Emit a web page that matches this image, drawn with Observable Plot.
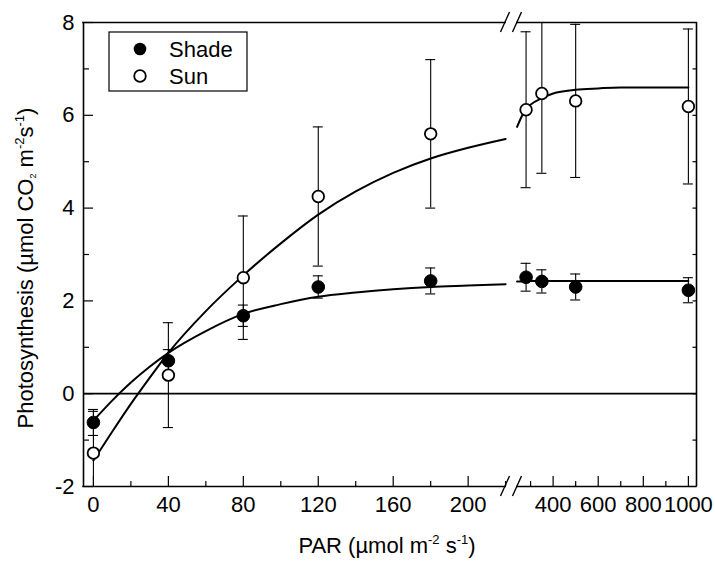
<!DOCTYPE html>
<html><head><meta charset="utf-8">
<script src="https://cdn.jsdelivr.net/npm/d3@7"></script>
<script src="https://cdn.jsdelivr.net/npm/@observablehq/plot@0.6"></script>
<style>
body{margin:0;background:#fff;}
#chart{position:relative;width:715px;height:566px;}
</style>
</head><body><div id="chart"></div>
<script>
// ---- data ----
const par = [0, 40, 80, 120, 180, 280, 350, 500, 1000];
const shadeMean = [-0.62, 0.71, 1.68, 2.30, 2.43, 2.51, 2.42, 2.30, 2.23];
const shadeErr  = [0.28, 0.24, 0.23, 0.24, 0.28, 0.30, 0.25, 0.28, 0.27];
const sunMean   = [-1.28, 0.40, 2.50, 4.25, 5.60, 6.12, 6.47, 6.31, 6.19];
const sunErr    = [0.90, 1.13, 1.33, 1.50, 1.60, 1.68, 1.72, 1.65, 1.67];

// fitted light-response curves
const fitLowPar   = [0, 10, 20, 30, 40, 60, 80, 100, 120, 140, 160, 180, 200, 220];
const shadeFitLow = [-0.58, -0.15, 0.24, 0.58, 0.88, 1.35, 1.72, 1.93, 2.09, 2.18, 2.25, 2.30, 2.33, 2.36];
const sunFitLow   = [-1.44, -0.82, -0.22, 0.34, 0.88, 1.78, 2.55, 3.24, 3.86, 4.36, 4.76, 5.07, 5.30, 5.49];
const fitHighPar   = [240, 260, 280, 300, 350, 400, 500, 600, 700, 800, 1000];
const shadeFitHigh = [2.42, 2.42, 2.43, 2.43, 2.43, 2.43, 2.43, 2.43, 2.43, 2.43, 2.43];
const sunFitHigh   = [5.75, 5.97, 6.13, 6.23, 6.37, 6.47, 6.55, 6.58, 6.60, 6.60, 6.60];

// ---- axes (broken x axis) ----
const xDomain = [-5.3, 221, 222, 1036];
const xRange  = [83, 507, 512.5, 696];
const yDomain = [-2, 8];
const xMinorTicks = [20, 60, 100, 140, 180, 220, 300, 500, 700, 900];
const xMajorTicks = [0, 40, 80, 120, 160, 200, 400, 600, 800, 1000];
const yMajorTicks = [-2, 0, 2, 4, 6, 8];
const yMinorTicks = [-1, 1, 3, 5, 7];
const yAllTicks = [-1, 0, 1, 2, 3, 4, 5, 6, 7];

const seriesNames = ["Shade", "Sun"];

const shadeRows = par.map((p, i) => ({par: p, v: shadeMean[i], lo: shadeMean[i] - shadeErr[i], hi: shadeMean[i] + shadeErr[i]}));
const sunRows   = par.map((p, i) => ({par: p, v: sunMean[i], lo: sunMean[i] - sunErr[i], hi: sunMean[i] + sunErr[i]}));
const allRows = [...shadeRows, ...sunRows];
const fitRows = [
  ...fitLowPar.map((p, i) => ({par: p, v: shadeFitLow[i], z: "shade-low"})),
  ...fitLowPar.map((p, i) => ({par: p, v: sunFitLow[i], z: "sun-low"})),
  ...fitHighPar.map((p, i) => ({par: p, v: shadeFitHigh[i], z: "shade-high"})),
  ...fitHighPar.map((p, i) => ({par: p, v: sunFitHigh[i], z: "sun-high"}))
];

const FONT = "Arial, 'Liberation Sans', Helvetica, sans-serif";
const fmt = d => String(d);

const plot = Plot.plot({
  width: 715,
  height: 566,
  marginLeft: 83,
  marginRight: 19,
  marginTop: 22,
  marginBottom: 80,
  style: {fontFamily: FONT, fontSize: "22px", color: "black", background: "white"},
  x: {type: "linear", domain: xDomain, range: xRange},
  y: {domain: yDomain},
  marks: [
    // zero line
    Plot.ruleY([0], {stroke: "black", strokeWidth: 1.8}),
    // frame: left & right
    Plot.ruleX([xDomain[0]], {y1: yDomain[0], y2: yDomain[1], stroke: "black", strokeWidth: 1.6}),
    Plot.ruleX([xDomain[3]], {y1: yDomain[0], y2: yDomain[1], stroke: "black", strokeWidth: 1.6}),
    // frame: bottom & top, broken
    Plot.ruleY([yDomain[0], yDomain[1]], {x1: xDomain[0], x2: xDomain[1], insetRight: 2, stroke: "black", strokeWidth: 1.6, strokeLinecap: "square"}),
    Plot.ruleY([yDomain[0], yDomain[1]], {x1: xDomain[2], x2: xDomain[3], insetLeft: 4.5, stroke: "black", strokeWidth: 1.6, strokeLinecap: "square"}),
    // inward ticks: y left
    Plot.ruleY(yMajorTicks, {x1: xDomain[0], x2: xDomain[0], insetRight: -10, stroke: "black", strokeWidth: 1.2}),
    Plot.ruleY(yMinorTicks, {x1: xDomain[0], x2: xDomain[0], insetRight: -6, stroke: "black", strokeWidth: 1.2}),
    // right border ticks
    Plot.ruleY(yAllTicks, {x1: xDomain[3], x2: xDomain[3], insetLeft: -3.5, stroke: "black", strokeWidth: 1.2}),
    // inward ticks: x bottom
    Plot.ruleX(xMajorTicks, {y1: yDomain[0], y2: yDomain[0], insetTop: -10, stroke: "black", strokeWidth: 1.2}),
    Plot.ruleX(xMinorTicks, {y1: yDomain[0], y2: yDomain[0], insetTop: -5, stroke: "black", strokeWidth: 1.2}),
    // tick labels
    Plot.axisX(xMajorTicks, {tickSize: 0, tickPadding: 10, tickFormat: fmt, fontSize: 22, label: null}),
    Plot.axisY(yMajorTicks, {tickSize: 0, tickPadding: 9, tickFormat: fmt, fontSize: 22, label: null}),
    // error bars
    Plot.ruleX(allRows, {x: "par", y1: "lo", y2: "hi", stroke: "black", strokeWidth: 1.1, clip: true}),
    Plot.ruleY(allRows, {y: "hi", x1: "par", x2: "par", insetLeft: -5, insetRight: -5, stroke: "black", strokeWidth: 1.1, clip: true}),
    Plot.ruleY(allRows, {y: "lo", x1: "par", x2: "par", insetLeft: -5, insetRight: -5, stroke: "black", strokeWidth: 1.1, clip: true}),
    // fitted curves
    Plot.line(fitRows, {x: "par", y: "v", z: "z", curve: "monotone-x", stroke: "black", strokeWidth: 2}),
    // points
    Plot.dot(shadeRows, {x: "par", y: "v", r: 6.3, fill: "black", stroke: "black", strokeWidth: 1}),
    Plot.dot(sunRows, {x: "par", y: "v", r: 5.8, fill: "white", stroke: "black", strokeWidth: 1.8})
  ]
});

document.getElementById("chart").appendChild(plot);

// ---- decorations: axis break marks, titles, legend ----
const svg = d3.select(plot);
const sx = plot.scale("x"), sy = plot.scale("y");
const bx1 = sx.apply(xDomain[1]) - 2, bx2 = sx.apply(xDomain[2]) + 4.5;
[sy.apply(yDomain[0]), sy.apply(yDomain[1])].forEach(yy => {
  [bx1, bx2].forEach(bx => {
    svg.append("line").attr("x1", bx - 4.5).attr("y1", yy + 10).attr("x2", bx + 4.5).attr("y2", yy - 10)
      .attr("stroke", "black").attr("stroke-width", 1.4);
  });
});

// x title
const xt = svg.append("text").attr("x", 387).attr("y", 553).attr("text-anchor", "middle")
  .attr("font-family", FONT).attr("font-size", 22).attr("fill", "black");
xt.append("tspan").text("PAR (µmol m");
xt.append("tspan").attr("dy", -9).attr("font-size", 13).text("-2");
xt.append("tspan").attr("dy", 9).text(" s");
xt.append("tspan").attr("dy", -9).attr("font-size", 13).text("-1");
xt.append("tspan").attr("dy", 9).text(")");

// y title
const yt = svg.append("text").attr("transform", "translate(33,268) rotate(-90)").attr("text-anchor", "middle")
  .attr("font-family", FONT).attr("font-size", 22).attr("fill", "black");
yt.append("tspan").text("Photosynthesis (µmol CO");
yt.append("tspan").attr("dy", 3).attr("font-size", 9).text("2");
yt.append("tspan").attr("dy", -3).text(" m");
yt.append("tspan").attr("dy", -9).attr("font-size", 13).text("-2");
yt.append("tspan").attr("dy", 9).text("s");
yt.append("tspan").attr("dy", -9).attr("font-size", 13).text("-1");
yt.append("tspan").attr("dy", 9).text(")");

// legend
const lg = svg.append("g").attr("text-anchor", "start");
lg.append("rect").attr("x", 109).attr("y", 32).attr("width", 138).attr("height", 59)
  .attr("fill", "white").attr("stroke", "black").attr("stroke-width", 1.2);
lg.append("circle").attr("cx", 140).attr("cy", 49).attr("r", 6.3).attr("fill", "black");
lg.append("circle").attr("cx", 140).attr("cy", 76).attr("r", 5.8).attr("fill", "white").attr("stroke", "black").attr("stroke-width", 1.8);
seriesNames.forEach((name, i) => {
  lg.append("text").attr("x", 169).attr("y", 57 + i * 27).attr("text-anchor", "start")
    .attr("font-family", FONT).attr("font-size", 22).attr("fill", "black").text(name);
});
</script>
</body></html>
